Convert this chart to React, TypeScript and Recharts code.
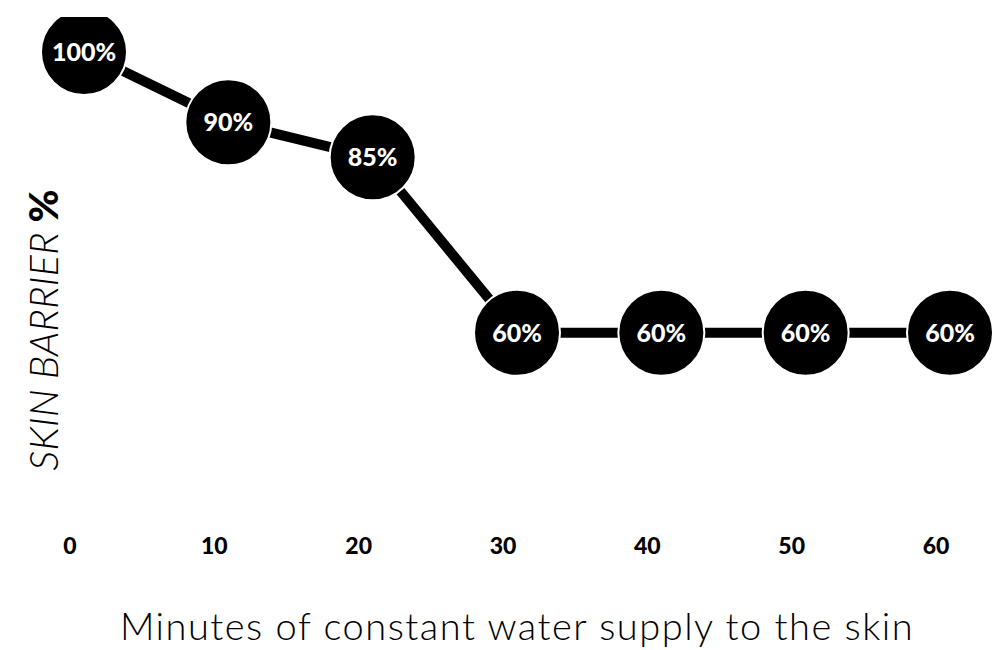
import { LineChart, Line, XAxis, YAxis } from 'recharts'

const minutes = [0, 10, 20, 30, 40, 50, 60]
const barrier = [100, 90, 85, 60, 60, 60, 60]
const barrierLabels = ['100%', '90%', '85%', '60%', '60%', '60%', '60%']

const data = minutes.map((m, i) => ({ minute: m, barrier: barrier[i], label: barrierLabels[i] }))

const FONT = 'Lato, "Open Sans", sans-serif'

function BubbleDot(props: any) {
  const { cx, cy, payload } = props
  if (cx == null || cy == null) return null
  return (
    <g>
      <circle cx={cx} cy={cy} r={43} fill="#000" stroke="#fff" strokeWidth={2} />
      <text
        x={cx}
        y={cy}
        dy={9}
        textAnchor="middle"
        fill="#fff"
        fontFamily={FONT}
        fontWeight={900}
        fontSize={25}
      >
        {payload.label}
      </text>
    </g>
  )
}

function MinuteTick(props: any) {
  const { x, y, payload } = props
  return (
    <text
      x={x}
      y={y}
      dx={-14}
      dy={151}
      textAnchor="middle"
      fill="#000"
      fontFamily={FONT}
      fontWeight={900}
      fontSize={23}
    >
      {payload.value}
    </text>
  )
}

function BarrierLabel(props: any) {
  const vb = props.viewBox || { x: 0, y: 0, width: 0, height: 0 }
  const x = vb.x + 58
  const y = vb.y + vb.height / 2 + 120
  return (
    <text
      x={x}
      y={y}
      transform={`rotate(-90, ${x}, ${y})`}
      textAnchor="middle"
      fill="#000"
      fontFamily={FONT}
      fontStyle="italic"
      fontWeight={300}
      fontSize={40}
    >
      SKIN BARRIER <tspan fontStyle="normal" fontWeight={900}>%</tspan>
    </text>
  )
}

export default function App() {
  return (
    <div style={{ position: 'absolute', left: 0, top: 0, background: '#fff' }}>
      <LineChart width={993} height={650} data={data} margin={{ top: 17, right: 43, left: 0, bottom: 0 }}>
        <XAxis
          dataKey="minute"
          type="number"
          domain={[0, 60]}
          ticks={minutes}
          axisLine={false}
          tickLine={false}
          tickSize={0}
          tickMargin={0}
          height={247}
          tick={<MinuteTick />}
          label={{
            value: 'Minutes of constant water supply to the skin',
            position: 'insideBottom',
            offset: 10,
            style: { fontFamily: FONT, fontWeight: 300, fontSize: 38, letterSpacing: 1.5, fill: '#000' },
          }}
        />
        <YAxis
          type="number"
          domain={[50, 105]}
          allowDataOverflow
          width={84}
          tick={false}
          axisLine={false}
          tickLine={false}
          label={<BarrierLabel />}
        />
        <Line
          type="linear"
          dataKey="barrier"
          stroke="#000"
          strokeWidth={10}
          dot={<BubbleDot />}
          activeDot={false}
          isAnimationActive={false}
        />
      </LineChart>
    </div>
  )
}
